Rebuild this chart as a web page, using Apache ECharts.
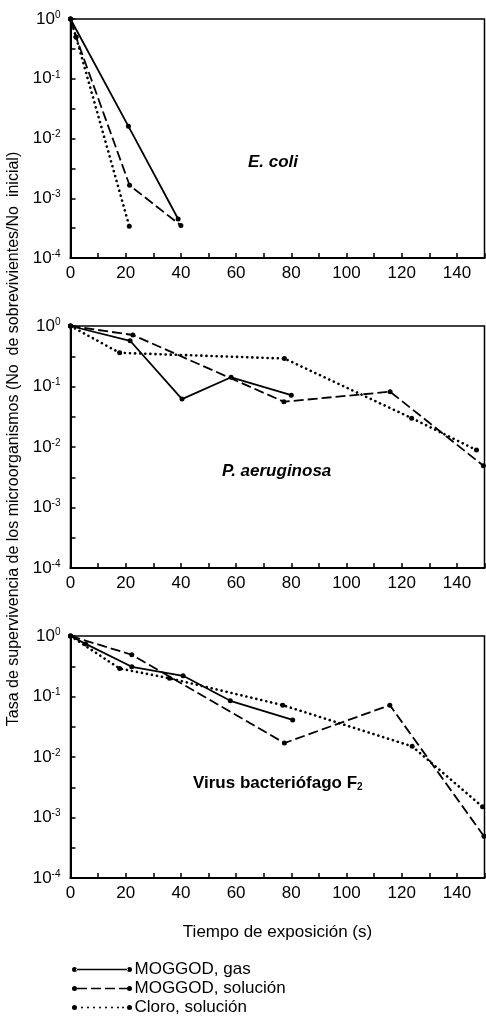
<!DOCTYPE html>
<html>
<head>
<meta charset="utf-8">
<script src="https://cdn.jsdelivr.net/npm/echarts@6/dist/echarts.min.js"></script>
<style>
  html, body { margin: 0; padding: 0; background: #fff; }
  #chart { width: 486px; height: 1026px; }
</style>
</head>
<body>
<div id="chart"></div>
<script>
// tiempo (s) y tasa de supervivencia
// E. coli
const ecoliGasT = [0, 21, 39]
const ecoliGasS = [1, 0.016, 0.00045]
const ecoliSolT = [0, 2, 21.4, 40]
const ecoliSolS = [1, 0.5, 0.00165, 0.00035]
const ecoliCloT = [0, 2, 21.3]
const ecoliCloS = [1, 0.5, 0.00034]
// P. aeruginosa
const paerGasT = [0, 21.6, 40.4, 58.2, 80]
const paerGasS = [1, 0.57, 0.062, 0.142, 0.072]
const paerSolT = [0, 22.6, 77.3, 115.8, 149.6]
const paerSolS = [1, 0.71, 0.056, 0.082, 0.0049]
const paerCloT = [0, 17.8, 77.5, 123.6, 147.1]
const paerCloS = [1, 0.36, 0.29, 0.03, 0.0089]
// Virus bacteriófago F2
const virGasT = [0, 5.5, 22.2, 40.8, 57.9, 80.5]
const virGasS = [1, 0.74, 0.31, 0.22, 0.085, 0.041]
const virSolT = [0, 22.2, 77.5, 115.7, 149.8]
const virSolS = [1, 0.49, 0.017, 0.072, 0.00049]
const virCloT = [0, 17.8, 35.9, 76.9, 123.8, 149.3]
const virCloS = [1, 0.29, 0.2, 0.072, 0.015, 0.0015]

const seriesNames = ['MOGGOD, gas', 'MOGGOD, solución', 'Cloro, solución']
const xTicks = [0, 20, 40, 60, 80, 100, 120, 140]

const FONT = "'Liberation Sans Narrow', 'Liberation Sans', Arial, sans-serif"
const pairs = (t, s) => t.map((x, i) => [x, s[i]])

const lineTypes = [
  { type: 'solid', width: 1.8 },
  { type: [10, 4], width: 1.8 },
  { type: [0.1, 5], width: 2.6, cap: 'round' },
]

const panels = [
  [[ecoliGasT, ecoliGasS], [ecoliSolT, ecoliSolS], [ecoliCloT, ecoliCloS]],
  [[paerGasT, paerGasS], [paerSolT, paerSolS], [paerCloT, paerCloS]],
  [[virGasT, virGasS], [virSolT, virSolS], [virCloT, virCloS]],
]

const grids = [
  { left: 70.5, width: 414, top: 19, height: 239 },
  { left: 70.5, width: 414, top: 326, height: 242 },
  { left: 70.5, width: 414, top: 636, height: 242 },
].map((g) => ({ ...g, show: true, borderColor: '#000', borderWidth: 1.5, containLabel: false, outerBoundsMode: 'none' }))

const powLabel = (v) => {
  const e = Math.log10(v)
  const r = Math.round(e)
  if (Math.abs(e - r) > 1e-6) return ''
  return '{b|10}{s|' + (r === 0 ? '0' : '-' + -r) + '}'
}

const xAxes = grids.map((g, i) => ({
  type: 'value',
  gridIndex: i,
  min: 0,
  max: 150,
  interval: 20,
  axisLine: { lineStyle: { color: '#000', width: 2 } },
  axisTick: { inside: true, length: 5, lineStyle: { color: '#000', width: 1.5 } },
  minorTick: { show: true, splitNumber: 2, length: 5, lineStyle: { color: '#000', width: 1.5 } },
  splitLine: { show: false },
  axisLabel: {
    color: '#000',
    fontFamily: FONT,
    fontSize: 17,
    margin: 7,
    formatter: (v) => (xTicks.includes(v) ? String(v) : ''),
  },
  name: i === 2 ? 'Tiempo de exposición (s)' : '',
  nameLocation: 'middle',
  nameGap: 46,
  nameTextStyle: { color: '#000', fontFamily: FONT, fontSize: 17 },
}))

const yAxes = grids.map((g, i) => ({
  type: 'log',
  logBase: 10,
  gridIndex: i,
  min: 0.0001,
  max: 1,
  interval: 0.5,
  axisLine: { lineStyle: { color: '#000', width: 2 } },
  axisTick: { inside: true, length: 5, lineStyle: { color: '#000', width: 1.5 } },
  splitLine: { show: false },
  axisLabel: {
    color: '#000',
    margin: 10,
    formatter: powLabel,
    rich: {
      b: { fontFamily: FONT, fontSize: 17, color: '#000' },
      s: { fontFamily: FONT, fontSize: 10, color: '#000', verticalAlign: 'top', padding: [0, 0, 8, 0] },
    },
  },
  name: i === 1 ? 'Tasa de supervivencia de los microorganismos (No  de sobrevivientes/No  inicial)' : '',
  nameLocation: 'middle',
  nameGap: 46,
  nameTextStyle: { color: '#000', fontFamily: FONT, fontSize: 16, padding: [0, 0, 0, 16] },
}))

const series = []
panels.forEach((panel, p) => {
  panel.forEach(([t, s], k) => {
    series.push({
      name: seriesNames[k],
      type: 'line',
      xAxisIndex: p,
      yAxisIndex: p,
      data: pairs(t, s),
      symbol: 'circle',
      symbolSize: 5,
      showSymbol: true,
      itemStyle: { color: '#000' },
      lineStyle: { color: '#000', ...lineTypes[k] },
      animation: false,
    })
  })
})

const dot = (cx, r) => `M${cx - r},2.5a${r},${r} 0 1,0 ${2 * r},0a${r},${r} 0 1,0 ${-2 * r},0z`
const ends = dot(2.5, 2.5) + dot(57.5, 2.5)
const legendIcons = [
  'path://' + ends + 'M4,1.8h52v1.4h-52z',
  'path://' + ends + 'M5,1.8h10v1.4h-10zM19,1.8h10v1.4h-10zM33,1.8h10v1.4h-10zM47,1.8h8v1.4h-8z',
  'path://' + ends + [10, 16, 22, 28, 34, 40, 46, 51].map((x) => dot(x, 1)).join(''),
]

const option = {
  backgroundColor: '#fff',
  animation: false,
  grid: grids,
  xAxis: xAxes,
  yAxis: yAxes,
  legend: {
    orient: 'vertical',
    left: 72,
    top: 961,
    itemWidth: 61,
    itemHeight: 5,
    itemGap: 2,
    padding: 0,
    data: seriesNames.map((n, k) => ({ name: n, icon: legendIcons[k] })),
    itemStyle: { color: '#000', borderWidth: 0 },
    textStyle: { color: '#000', fontFamily: FONT, fontSize: 17, lineHeight: 17, padding: [0, 0, 0, -3] },
  },
  graphic: [
    {
      type: 'text', left: 248, top: 154,
      style: { text: 'E. coli', fill: '#000', fontFamily: FONT, fontSize: 17, fontWeight: 'bold', fontStyle: 'italic' },
    },
    {
      type: 'text', left: 222, top: 463,
      style: { text: 'P. aeruginosa', fill: '#000', fontFamily: FONT, fontSize: 17, fontWeight: 'bold', fontStyle: 'italic' },
    },
    {
      type: 'text', left: 193, top: 775,
      style: {
        text: '{b|Virus bacteriófago F}{s|2}',
        rich: {
          b: { fill: '#000', fontFamily: FONT, fontSize: 17, fontWeight: 'bold' },
          s: { fill: '#000', fontFamily: FONT, fontSize: 10, fontWeight: 'bold', padding: [8, 0, 0, 0] },
        },
      },
    },
  ],
  series,
}

const chart = echarts.init(document.getElementById('chart'))
chart.setOption(option)
</script>
</body>
</html>
